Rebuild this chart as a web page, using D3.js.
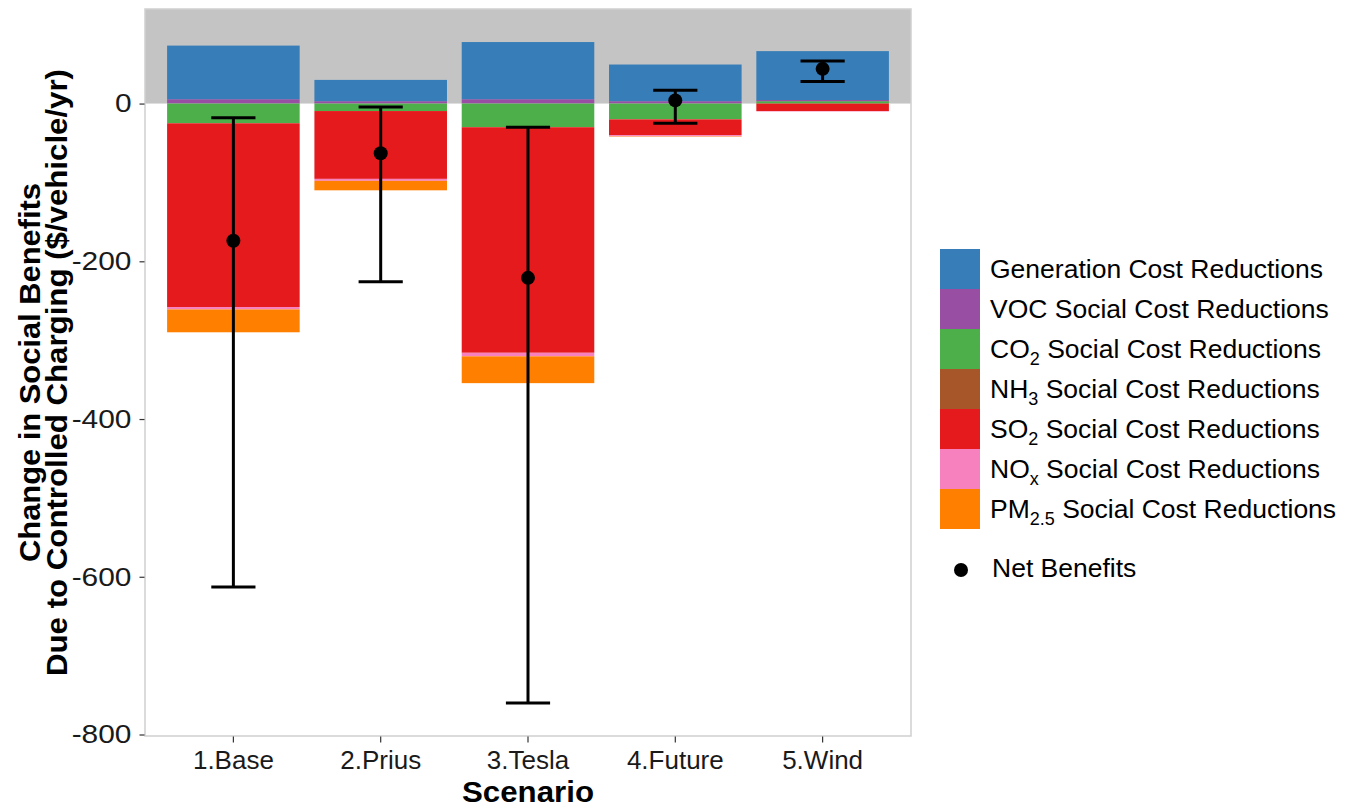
<!DOCTYPE html>
<html>
<head>
<meta charset="utf-8">
<script src="https://cdn.jsdelivr.net/npm/d3@7"></script>
<style>
  body { margin: 0; background: #fff; }
  svg { display: block; font-family: "Liberation Sans", Arial, sans-serif; }
</style>
</head>
<body>
<svg width="1353" height="808"></svg>
<script>
// data ($/vehicle/yr)
var scenarios = ["1.Base", "2.Prius", "3.Tesla", "4.Future", "5.Wind"];
var components = ["gen", "voc", "co2", "nh3", "so2", "nox", "pm25"];
var generation = [68, 27, 72.5, 46.5, 62];
var voc = [5.5, 3, 5.5, 3, 1.5];
var co2 = [-25, -9.5, -30, -20, 3];
var nh3 = [0, 0, 0, 0, 0];
var so2 = [-233, -86, -286, -20, -9.5];
var nox = [-3, -2.5, -4.5, -1.5, -0.5];
var pm25 = [-29, -12, -34, -0.5, 0];
var netBenefit = [-174, -63, -221, 4, 44];
var netLow = [-613, -226, -760, -25, 28];
var netHigh = [-18, -4.5, -30, 17, 54];
var yTicks = [0, -200, -400, -600, -800];

var colors = {gen: "#377EB8", voc: "#984EA3", co2: "#4DAF4A", nh3: "#A65628",
              so2: "#E41A1C", nox: "#F781BF", pm25: "#FF7F00"};
var labels = {
  gen: [["Generation Cost Reductions"]],
  voc: [["VOC Social Cost Reductions"]],
  co2: [["CO"], ["2", "sub"], [" Social Cost Reductions"]],
  nh3: [["NH"], ["3", "sub"], [" Social Cost Reductions"]],
  so2: [["SO"], ["2", "sub"], [" Social Cost Reductions"]],
  nox: [["NO"], ["x", "sub"], [" Social Cost Reductions"]],
  pm25: [["PM"], ["2.5", "sub"], [" Social Cost Reductions"]]
};

var rows = scenarios.map(function(s, i) {
  return {scenario: s, gen: generation[i], voc: voc[i], co2: co2[i], nh3: nh3[i],
          so2: so2[i], nox: nox[i], pm25: pm25[i],
          net: netBenefit[i], lo: netLow[i], hi: netHigh[i]};
});

var svg = d3.select("svg"),
    pLeft = 145, pRight = 911, pTop = 9, pBottom = 736;

// positive parts: first level ends up farthest from zero; negatives: first level nearest zero
var posStack = d3.stack().keys(components.slice().reverse())
    .value(function(d, k) { return Math.max(0, d[k]); })(rows);
var negStack = d3.stack().keys(components)
    .offset(d3.stackOffsetDiverging)
    .value(function(d, k) { return Math.min(0, d[k]); })(rows);

var dMax = d3.max(posStack[posStack.length - 1], function(d) { return d[1]; });
var dMin = d3.min(netLow);
var pad = (dMax - dMin) * 0.05;

var x = d3.scaleBand().domain(scenarios).range([pLeft, pRight])
    .paddingInner(0.1).paddingOuter(0.15);
var y = d3.scaleLinear().domain([dMin - pad, dMax + pad]).range([pBottom, pTop]);

// grey band above zero
svg.append("rect")
  .attr("x", pLeft).attr("y", pTop)
  .attr("width", pRight - pLeft).attr("height", y(0) - pTop)
  .attr("fill", "#c4c4c4");

var g = svg.append("g");
posStack.concat(negStack).forEach(function(layer) {
  g.selectAll(null)
    .data(layer)
    .enter()
    .append("rect")
    .attr("x", function(d) { return x(d.data.scenario); })
    .attr("width", x.bandwidth())
    .attr("y", function(d) { return y(Math.max(d[0], d[1])); })
    .attr("height", function(d) { return Math.abs(y(d[0]) - y(d[1])); })
    .attr("fill", colors[layer.key]);
});

// error bars and net points
var cap = x.step() * 0.15;
var eb = svg.append("g").attr("stroke", "#000").attr("stroke-width", 3);
rows.forEach(function(d) {
  var cx = x(d.scenario) + x.bandwidth() / 2;
  eb.append("line").attr("x1", cx).attr("x2", cx).attr("y1", y(d.hi)).attr("y2", y(d.lo));
  eb.append("line").attr("x1", cx - cap).attr("x2", cx + cap).attr("y1", y(d.hi)).attr("y2", y(d.hi));
  eb.append("line").attr("x1", cx - cap).attr("x2", cx + cap).attr("y1", y(d.lo)).attr("y2", y(d.lo));
});
svg.append("g").selectAll("circle")
  .data(rows).enter().append("circle")
  .attr("cx", function(d) { return x(d.scenario) + x.bandwidth() / 2; })
  .attr("cy", function(d) { return y(d.net); })
  .attr("r", 7)
  .attr("fill", "#000");

// panel border
svg.append("rect")
  .attr("x", pLeft).attr("y", pTop)
  .attr("width", pRight - pLeft).attr("height", pBottom - pTop)
  .attr("fill", "none").attr("stroke", "#cfcfcf").attr("stroke-width", 1.5);

// axes
var yAxis = svg.append("g")
  .attr("transform", "translate(" + (pLeft - 0.5) + ",0)")
  .call(d3.axisLeft(y).tickValues(yTicks).tickSize(5).tickPadding(8));
var xAxis = svg.append("g")
  .attr("transform", "translate(0," + (pBottom + 0.5) + ")")
  .call(d3.axisBottom(x).tickSize(6).tickPadding(8));
[yAxis, xAxis].forEach(function(ax) {
  ax.select(".domain").remove();
  ax.selectAll(".tick line").attr("stroke", "#333").attr("stroke-width", 1.2);
  ax.selectAll(".tick text").attr("fill", "#1a1a1a")
    .style("font-size", "26px").style("font-family", "Liberation Sans, Arial, sans-serif");
});
// y labels in the reference are drawn a bit wider than plain text
yAxis.selectAll(".tick text")
  .text(function(d) { return d === 0 ? "0" : "-" + Math.abs(d); })
  .each(function() {
    var w = this.getComputedTextLength();
    d3.select(this).attr("textLength", w * 1.15).attr("lengthAdjust", "spacingAndGlyphs");
  });

// axis titles
svg.append("text")
  .attr("x", (pLeft + pRight) / 2).attr("y", 802)
  .attr("text-anchor", "middle")
  .attr("textLength", 132).attr("lengthAdjust", "spacingAndGlyphs")
  .style("font-size", "29px").style("font-weight", "bold")
  .text("Scenario");

var yt = svg.append("text")
  .attr("transform", "translate(0," + ((pTop + pBottom) / 2) + ") rotate(-90)")
  .attr("text-anchor", "middle")
  .style("font-size", "30px").style("font-weight", "bold");
yt.append("tspan").attr("x", 0).attr("y", 40)
  .attr("textLength", 379).attr("lengthAdjust", "spacingAndGlyphs")
  .text("Change in Social Benefits");
yt.append("tspan").attr("x", 0).attr("y", 67)
  .attr("textLength", 607).attr("lengthAdjust", "spacingAndGlyphs")
  .text("Due to Controlled Charging ($/vehicle/yr)");

// legend
var legend = svg.append("g").attr("transform", "translate(940,249)");
components.forEach(function(k, i) {
  var row = legend.append("g").attr("transform", "translate(0," + (i * 40) + ")");
  row.append("rect").attr("width", 40).attr("height", 40).attr("fill", colors[k]);
  var t = row.append("text").attr("x", 50).attr("y", 29).style("font-size", "26.5px");
  labels[k].forEach(function(p, j) {
    if (p[1] === "sub") {
      t.append("tspan").attr("dy", 7).style("font-size", "18px").text(p[0]);
    } else {
      t.append("tspan").attr("dy", j > 0 ? -7 : 0).text(p[0]);
    }
  });
});
legend.append("circle").attr("cx", 21).attr("cy", 321).attr("r", 7).attr("fill", "#000");
legend.append("text").attr("x", 52).attr("y", 328).style("font-size", "26.5px").text("Net Benefits");
</script>
</body>
</html>
